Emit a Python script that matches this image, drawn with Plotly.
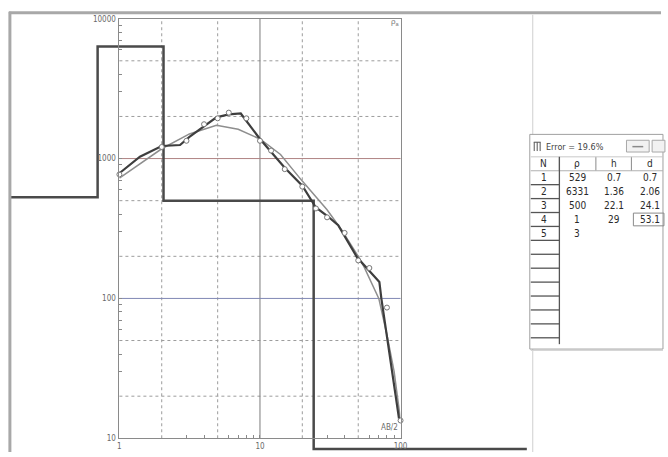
import plotly.graph_objects as go

W, H = 668, 457

# ---------------- data ----------------
obs_ab2 = [1, 2, 3, 4, 5, 6, 8, 10, 12, 15, 20, 25, 30, 40, 50, 60, 80, 100]
obs_rho = [770, 1210, 1340, 1760, 1940, 2130, 1940, 1340, 1140, 840, 630, 440, 380, 294, 187, 165, 86, 13.4]

fit_ab2 = [1, 1.4, 2, 2.7, 3.15, 3.9, 4.9, 6, 7.3, 10, 12, 15, 20, 25, 30, 36, 49, 70.7, 73, 97.5]
fit_rho = [785, 1030, 1230, 1250, 1430, 1680, 1970, 2070, 2100, 1380, 1120, 860, 640, 447, 390, 334, 197, 131, 100, 13.8]

model_ab2 = [1, 1.4, 2, 3.15, 4.9, 7, 10, 14, 20, 30, 38, 50, 55, 70, 80, 90, 100]
model_rho = [725, 910, 1175, 1500, 1730, 1620, 1380, 1070, 690, 430, 310, 200, 168, 100, 55, 30, 13.4]

layer_n = [1, 2, 3, 4, 5]
layer_rho = [529, 6331, 500, 1, 3]
layer_h = [0.7, 1.36, 22.1, 29, None]
layer_d = [0.7, 2.06, 24.1, 53.1, None]
error_pct = 19.6

x_ticks = [1, 10, 100]
y_ticks = [10, 100, 1000, 10000]
x_minor = [3, 4, 6, 7, 8, 9, 30, 40, 60, 70, 80, 90]
y_minor = [30, 40, 60, 70, 80, 90, 300, 400, 600, 700, 800, 900, 3000, 4000, 6000, 7000, 8000, 9000]
x_dot_grid = [2, 5, 20, 50]
y_dot_grid = [20, 50, 200, 500, 2000, 5000]

# ---------------- geometry (pixels) ----------------
L, R, T, B = 119, 404, 15, 443          # inner plot box
SX = (R - L) / 2.0
SY = (B - T) / 3.0


def xlog_at(px):
    return (px - L) / SX


def ylog_at(py):
    return 1 + (B - py) / SY


def PX(x):
    return x / W


def PY(y):
    return 1 - y / H


FL, FR, FT, FB = 6, 536, 8, 456        # model frame area

fig = go.Figure()

# ---------------- grid (frame axes) ----------------
def vlines(xs):
    X, Y = [], []
    for v in xs:
        X += [v, v, None]
        Y += [y_ticks[0], y_ticks[-1], None]
    return X, Y


def hlines(ys):
    X, Y = [], []
    for v in ys:
        X += [x_ticks[0], x_ticks[-1], None]
        Y += [v, v, None]
    return X, Y


gx, gy = vlines(x_dot_grid)
fig.add_trace(go.Scatter(x=gx, y=gy, mode="lines", line=dict(color="#9c9c9c", width=1, dash="dot"),
                         xaxis="x", yaxis="y", hoverinfo="skip"))
gx, gy = hlines(y_dot_grid)
fig.add_trace(go.Scatter(x=gx, y=gy, mode="lines", line=dict(color="#9c9c9c", width=1, dash="dot"),
                         xaxis="x", yaxis="y", hoverinfo="skip"))
gx, gy = vlines([10])
fig.add_trace(go.Scatter(x=gx, y=gy, mode="lines", line=dict(color="#7c7c7c", width=1),
                         xaxis="x", yaxis="y", hoverinfo="skip"))
gx, gy = hlines([100])
fig.add_trace(go.Scatter(x=gx, y=gy, mode="lines", line=dict(color="#8088b4", width=1),
                         xaxis="x", yaxis="y", hoverinfo="skip"))
gx, gy = hlines([1000])
fig.add_trace(go.Scatter(x=gx, y=gy, mode="lines", line=dict(color="#b08484", width=1),
                         xaxis="x", yaxis="y", hoverinfo="skip"))

# ---------------- layered model (step) ----------------
x_left = 10 ** xlog_at(8)
x_right = 10 ** xlog_at(532)
y_floor = 10 ** ylog_at(454)
step_x = [x_left] + [d for d in layer_d if d is not None] + [x_right]
step_y = [max(r, y_floor) for r in layer_rho] + [max(layer_rho[-1], y_floor)]
fig.add_trace(go.Scatter(x=step_x, y=step_y, mode="lines", line_shape="hv",
                         line=dict(color="#4a4a4a", width=2.5), xaxis="x", yaxis="y", hoverinfo="skip"))

# ---------------- curves (inner axes) ----------------
fig.add_trace(go.Scatter(x=model_ab2, y=model_rho, mode="lines", line=dict(color="#8e8e8e", width=1.5),
                         xaxis="x2", yaxis="y2", hoverinfo="skip"))
fig.add_trace(go.Scatter(x=fit_ab2, y=fit_rho, mode="lines", line=dict(color="#3e3e3e", width=2.2),
                         xaxis="x2", yaxis="y2", hoverinfo="skip"))
fig.add_trace(go.Scatter(x=obs_ab2, y=obs_rho, mode="markers", cliponaxis=False,
                         marker=dict(symbol="circle", size=5, color="white", line=dict(color="#777777", width=1)),
                         xaxis="x2", yaxis="y2", hoverinfo="skip"))

NARROW = "Liberation Sans Narrow, DejaVu Sans Condensed, Liberation Sans, sans-serif"
tickfont = dict(family=NARROW, size=8, color="#6a6a6a")

fig.update_layout(
    width=W, height=H, margin=dict(l=0, r=0, t=0, b=0),
    paper_bgcolor="white", plot_bgcolor="rgba(0,0,0,0)", showlegend=False, hovermode=False,
    xaxis=dict(type="log", domain=[PX(FL), PX(FR)], range=[xlog_at(FL), xlog_at(FR)], visible=False,
               anchor="y"),
    yaxis=dict(type="log", domain=[PY(FB), PY(FT)], range=[ylog_at(FB), ylog_at(FT)], visible=False,
               anchor="x"),
    xaxis2=dict(type="log", domain=[PX(L), PX(R)], range=[0, 2], anchor="y2",
                showline=True, linecolor="#8a8a8a", linewidth=1, mirror=True,
                ticks="inside", ticklen=3, tickcolor="#8a8a8a",
                tickvals=x_ticks, ticktext=[str(v) for v in x_ticks], tickfont=tickfont,
                ticklabelstandoff=0,
                showgrid=False, zeroline=False,
                minor=dict(ticks="inside", ticklen=3, tickcolor="#8a8a8a", tickvals=x_minor, showgrid=False)),
    yaxis2=dict(type="log", domain=[PY(B), PY(T)], range=[1, 4], anchor="x2",
                showline=True, linecolor="#8a8a8a", linewidth=1, mirror=True,
                ticks="inside", ticklen=3, tickcolor="#8a8a8a",
                tickvals=y_ticks, ticktext=[str(v) for v in y_ticks], tickfont=tickfont,
                ticklabelstandoff=1,
                showgrid=False, zeroline=False,
                minor=dict(ticks="inside", ticklen=3, tickcolor="#8a8a8a", tickvals=y_minor, showgrid=False)),
)

ann = []


def text(x, y, t, font, xanchor="center"):
    ann.append(dict(x=PX(x), y=PY(y), xref="paper", yref="paper", text=t, showarrow=False,
                    xanchor=xanchor, yanchor="middle", font=font))


# ---------------- annotations on plot ----------------
text(399, 18, "ρ<sub>a</sub>", dict(family="Liberation Sans, sans-serif", size=8, color="#7a7a7a"))
text(393, 432, "AB/2", dict(family=NARROW, size=8, color="#6a6a6a"))

shapes = []


def line(x0, y0, x1, y1, color, width=1):
    shapes.append(dict(type="line", xref="paper", yref="paper", x0=PX(x0), y0=PY(y0), x1=PX(x1), y1=PY(y1),
                       line=dict(color=color, width=width), layer="above"))


def rect(x0, y0, x1, y1, color, fill="rgba(0,0,0,0)", width=1):
    shapes.append(dict(type="rect", xref="paper", yref="paper", x0=PX(x0), y0=PY(y0), x1=PX(x1), y1=PY(y1),
                       line=dict(color=color, width=width), fillcolor=fill, layer="above"))


# outer frame
line(7, 9, 668, 9, "#a8a8a8", 3)
line(8, 8, 8, 457, "#a8a8a8", 3)
line(538, 11, 538, 457, "#cfcfcf", 1)

# ---------------- parameter table window ----------------
rect(536, 353, 670, 354, "#d6d6d6", "#d6d6d6", 0)           # shadow
rect(535, 133, 670, 352, "#a0a0a0", "white", 1)
# title icon
line(539, 141, 546, 141, "#555555", 1)
line(539.5, 141, 539.5, 150, "#555555", 1)
line(542.5, 141, 542.5, 150, "#555555", 1)
line(545.5, 141, 545.5, 150, "#555555", 1)
text(549, 146, f"Error = {error_pct}%", dict(family=NARROW, size=9, color="#444444"), xanchor="left")
# title buttons
rect(633, 139, 656, 151, "#a8a8a8", "#f2f2f2", 1)
line(639, 145.5, 650, 145.5, "#8a8a8a", 1.5)
rect(659, 139, 672, 151, "#a8a8a8", "#f2f2f2", 1)

col_cx = [549, 583, 620, 657]
col_sep = [565, 602, 638]
row_h = 14.2
head_cy = 163
top_hdr = head_cy - row_h / 2

tfont = dict(family=NARROW, size=10, color="#2a2a2a")

# header
for i, t in enumerate(["N", "ρ", "h", "d"]):
    text(col_cx[i], head_cy, t, tfont)
for xs in col_sep:
    line(xs, top_hdr, xs, top_hdr + row_h, "#8a8a8a", 1)
line(536, top_hdr, 670, top_hdr, "#c8c8c8", 1)
line(536, top_hdr + row_h, 670, top_hdr + row_h, "#b0b0b0", 1)

# N column
line(565, top_hdr, 565, 347, "#555555", 1.3)
for k in range(1, 13):
    yk = top_hdr + row_h * (k + 1)
    if yk < 347:
        line(536, yk, 565, yk, "#555555", 1.3)

# rows
for i, n in enumerate(layer_n):
    cy = head_cy + row_h * (i + 1)
    vals = [str(n), str(layer_rho[i]),
            "" if layer_h[i] is None else str(layer_h[i]),
            "" if layer_d[i] is None else str(layer_d[i])]
    for j, v in enumerate(vals):
        if v:
            text(col_cx[j], cy, v, tfont)
# selected cell box (last depth)
cy4 = head_cy + row_h * 4
rect(640, cy4 - 6.5, 671, cy4 + 6.5, "#8a8a8a", "rgba(0,0,0,0)", 1)

fig.update_layout(annotations=ann, shapes=shapes)

fig.write_html(
    "out.html",
    config={"displayModeBar": False, "staticPlot": True},
    post_script=(
        "document.documentElement.style.margin='0';"
        "document.body.style.margin='0';document.body.style.padding='0';"
        "document.body.style.overflow='hidden';"
        "var gd=document.getElementById('{plot_id}');"
        "gd.style.position='absolute';gd.style.left='0px';gd.style.top='0px';"
    ),
)
